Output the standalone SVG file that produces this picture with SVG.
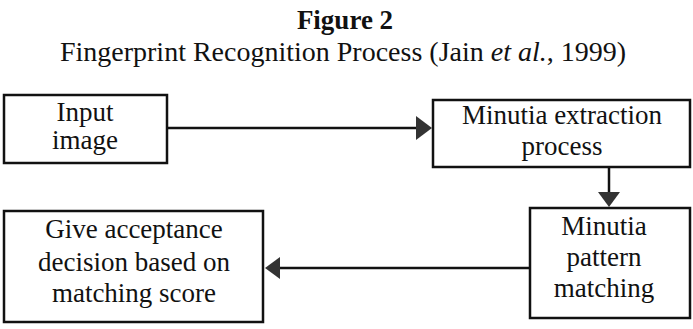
<svg xmlns="http://www.w3.org/2000/svg" width="693" height="329" viewBox="0 0 693 329">
<style>
text{font-family:"Liberation Serif","DejaVu Serif",serif;fill:#111;text-anchor:middle}
.t{font-size:27px}
.title{font-size:27px;font-weight:bold}
.sub{font-size:28px}
.box{fill:#fff;stroke:#111;stroke-width:2.5}
.edge{stroke:#111;stroke-width:2.5;fill:none}
.head{fill:#333}
</style>
<rect width="693" height="329" fill="#fff"/>
<text class="title" x="345" y="29">Figure 2</text>
<text class="sub" x="343" y="61">Fingerprint Recognition Process (Jain <tspan font-style="italic">et al.</tspan>, 1999)</text>
<g id="connectors">
<line class="edge" x1="167" y1="128" x2="418" y2="128"/>
<path class="head" d="M416,116 L432,128 L416,140 Z"/>
<line class="edge" x1="609" y1="168" x2="609" y2="194"/>
<path class="head" d="M598,192 L609,207 L620,192 Z"/>
<line class="edge" x1="530" y1="268" x2="279" y2="268"/>
<path class="head" d="M280,257 L265,268 L280,279 Z"/>
</g>
<g id="input">
<rect class="box" x="4" y="95" width="163" height="68"/>
<text class="t" x="85" y="121">Input</text>
<text class="t" x="85" y="149">image</text>
</g>
<g id="extraction">
<rect class="box" x="433" y="100" width="257" height="67"/>
<text class="t" x="562" y="124">Minutia extraction</text>
<text class="t" x="562" y="155">process</text>
</g>
<g id="matching">
<rect class="box" x="530" y="208" width="160" height="110"/>
<text class="t" x="604" y="235">Minutia</text>
<text class="t" x="604" y="266">pattern</text>
<text class="t" x="604" y="297">matching</text>
</g>
<g id="decision">
<rect class="box" x="4" y="211" width="259" height="111"/>
<text class="t" x="134" y="238">Give acceptance</text>
<text class="t" x="134" y="271">decision based on</text>
<text class="t" x="134" y="302">matching score</text>
</g>
</svg>
